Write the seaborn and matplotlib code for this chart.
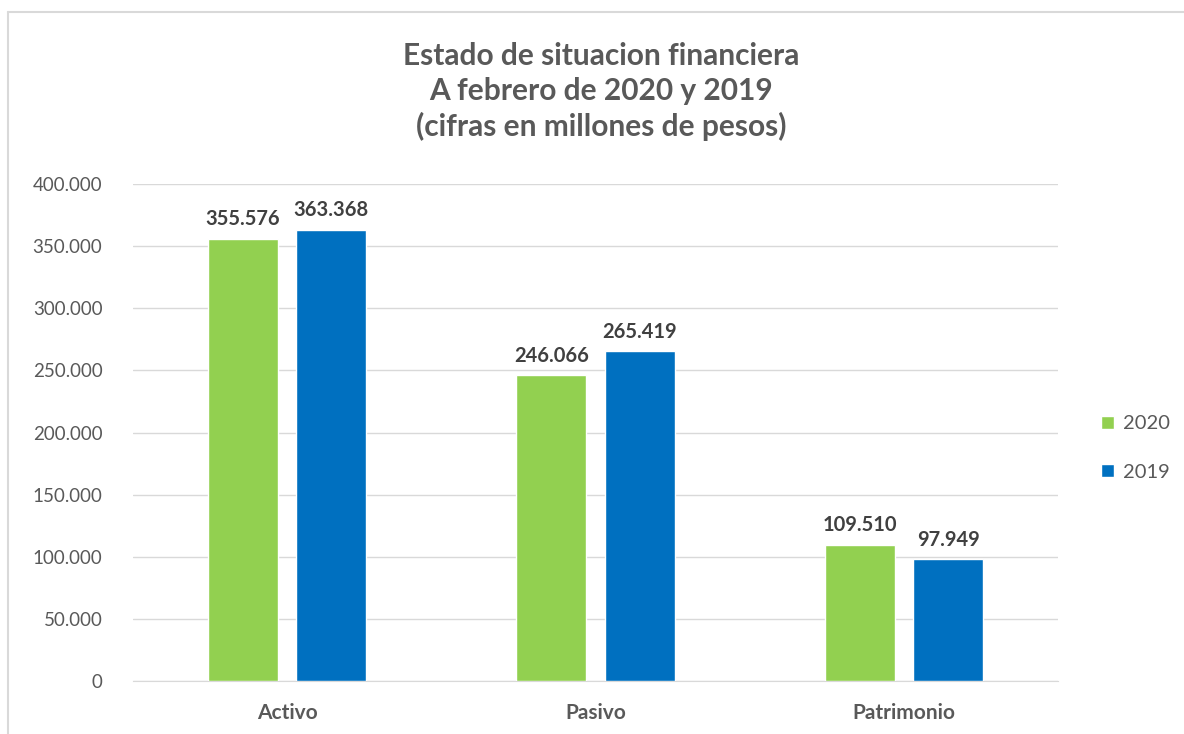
import matplotlib
matplotlib.use("Agg")
import matplotlib.pyplot as plt
import seaborn as sns
import pandas as pd
from matplotlib.lines import Line2D

categories = ['Activo', 'Pasivo', 'Patrimonio']
years = ['2020', '2019']
values_2020 = [355576, 246066, 109510]
values_2019 = [363368, 265419, 97949]
y_ticks = [0, 50000, 100000, 150000, 200000, 250000, 300000, 350000, 400000]
title = 'Estado de situacion financiera\nA febrero de 2020 y 2019\n(cifras en millones de pesos)'

df = pd.DataFrame({
    'categoria': categories * 2,
    'anio': [years[0]] * 3 + [years[1]] * 3,
    'valor': values_2020 + values_2019,
})

sns.set_style('white')
plt.rcParams['font.family'] = ['Lato', 'DejaVu Sans']
txt = '#595959'

fig = plt.figure(figsize=(11.84, 7.34), dpi=100)
ax = fig.add_axes([0.1123, 0.0722, 0.7813, 0.6771])

sns.barplot(data=df, x='categoria', y='valor', hue='anio', hue_order=years,
            palette=['#92D050', '#0070C0'], width=0.574, gap=0.21,
            saturation=1, ax=ax, zorder=3)

def fmt(v):
    return f'{v:,.0f}'.replace(',', '.')

for cont in ax.containers:
    ax.bar_label(cont, labels=[fmt(v) for v in cont.datavalues], padding=7,
                 fontsize=14.5, fontweight='bold', color='#404040')

ax.set_ylim(0, 400000)
ax.set_yticks(y_ticks)
ax.set_yticklabels([fmt(v) for v in y_ticks], fontsize=13.5, color=txt)
ax.tick_params(axis='y', length=0, pad=22)
ax.tick_params(axis='x', length=0, pad=16)
for lab in ax.get_xticklabels():
    lab.set_fontsize(15)
    lab.set_fontweight('bold')
    lab.set_color(txt)
ax.set_xlabel('')
ax.set_ylabel('')
ax.grid(axis='y', color='#D9D9D9', linewidth=1, zorder=0)
for s in ['top', 'right', 'left']:
    ax.spines[s].set_visible(False)
ax.spines['bottom'].set_color('#D9D9D9')

ax.legend(loc='center left', bbox_to_anchor=(1.027, 0.469), frameon=False,
          fontsize=14.5, labelcolor=txt, handlelength=0.65, handleheight=0.65,
          labelspacing=1.55, handletextpad=0.45)

fig.text(0.508, 0.875, title, ha='center', va='center', fontsize=21.5,
         fontweight='bold', color=txt, linespacing=1.3)

# outer chart frame
fig.add_artist(Line2D([8 / 1184, 1], [1 - 12 / 734] * 2, color='#D9D9D9', lw=1.5))
fig.add_artist(Line2D([8 / 1184] * 2, [0, 1 - 12 / 734], color='#D9D9D9', lw=1.5))

fig.savefig('out.png', dpi=100)
